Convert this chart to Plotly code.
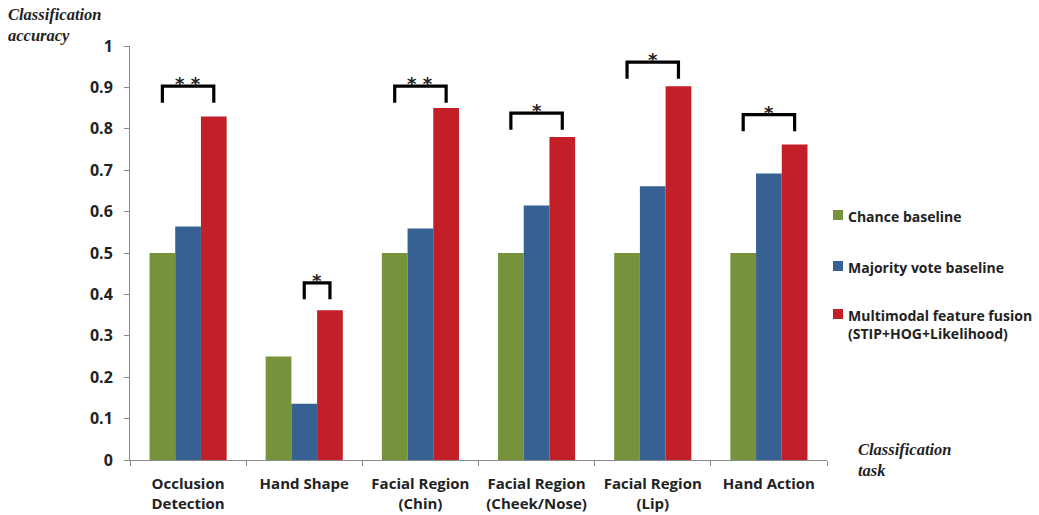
import plotly.graph_objects as go

# Classification tasks (x categories) and accuracies per method
tasks = [
    "Occlusion<br>Detection",
    "Hand Shape",
    "Facial Region<br>(Chin)",
    "Facial Region<br>(Cheek/Nose)",
    "Facial Region<br>(Lip)",
    "Hand Action",
]
chance = [0.50, 0.25, 0.50, 0.50, 0.50, 0.50]
majority = [0.564, 0.136, 0.559, 0.615, 0.661, 0.692]
fusion = [0.830, 0.362, 0.850, 0.780, 0.903, 0.762]

series_names = [
    "Chance baseline",
    "Majority vote baseline",
    "Multimodal feature fusion<br>(STIP+HOG+Likelihood)",
]

# Significance brackets: stars, compared bars, bracket level
stars = ["* *", "*", "* *", "*", "*", "*"]
bracket_from = ["chance", "majority", "chance", "chance", "chance", "chance"]
bracket_level = [0.903, 0.428, 0.903, 0.838, 0.961, 0.834]

y_ticks = [0, 0.1, 0.2, 0.3, 0.4, 0.5, 0.6, 0.7, 0.8, 0.9, 1]

GREEN = "#76933C"
BLUE = "#376093"
RED = "#C21F28"
COLORS = [GREEN, BLUE, RED]
BODY_FONT = "Open Sans"

fig = go.Figure()
for name, vals, col in zip(series_names, [chance, majority, fusion], COLORS):
    fig.add_trace(go.Bar(
        x=tasks, y=vals, name=name, marker_color=col,
        marker_line_width=0, showlegend=False,
    ))

BARGAP = 0.336
bar_w = (1 - BARGAP) / 3
offsets = {"chance": -bar_w, "majority": 0.0, "fusion": bar_w}

shapes = []
annotations = []
leg = 0.04
for i, (s, frm, lvl) in enumerate(zip(stars, bracket_from, bracket_level)):
    x0 = i + offsets[frm]
    x1 = i + offsets["fusion"]
    shapes.append(dict(
        type="path", xref="x", yref="y",
        path=f"M {x0},{lvl - leg} L {x0},{lvl} L {x1},{lvl} L {x1},{lvl - leg}",
        line=dict(color="black", width=3.2),
    ))
    annotations.append(dict(
        x=(x0 + x1) / 2, y=lvl, xref="x", yref="y", text=f"<b>{s}</b>",
        showarrow=False, yanchor="bottom", yshift=-10,
        font=dict(family="DejaVu Sans", size=18, color="#222"),
    ))

# Axis titles
annotations.append(dict(
    x=-0.178, y=1.105, xref="paper", yref="paper", xanchor="left", yanchor="top",
    text="<b><i>Classification<br>accuracy</i></b>", showarrow=False, align="left",
    font=dict(family="Liberation Serif", size=16.5, color="#222"),
))
annotations.append(dict(
    x=1.042, y=0.0, xref="paper", yref="paper", xanchor="left", yanchor="middle",
    text="<b><i>Classification<br>task</i></b>", showarrow=False, align="left",
    font=dict(family="Liberation Serif", size=16.5, color="#222"),
))

# Legend on the right: colour squares with labels
PLOT_L, PLOT_R, PLOT_T, PLOT_B = 130, 827, 46, 460
def px_x(px):
    return (px - PLOT_L) / (PLOT_R - PLOT_L)
def px_y(py):
    return (PLOT_B - py) / (PLOT_B - PLOT_T)

legend_rows = [215, 266, 314]
for name, col, row in zip(series_names, COLORS, legend_rows):
    shapes.append(dict(
        type="rect", xref="paper", yref="paper",
        x0=px_x(833), x1=px_x(843), y0=px_y(row + 5), y1=px_y(row - 5),
        fillcolor=col, line_width=0,
    ))
    annotations.append(dict(
        x=px_x(846), y=px_y(row - 10), xref="paper", yref="paper",
        xanchor="left", yanchor="top", align="left", showarrow=False,
        text=f"<b>{name}</b>",
        font=dict(family=BODY_FONT, size=14, color="#222"),
    ))

fig.update_layout(
    width=1039, height=515,
    margin=dict(l=PLOT_L, r=1039 - PLOT_R, t=PLOT_T, b=515 - PLOT_B, autoexpand=False),
    paper_bgcolor="white", plot_bgcolor="white",
    barmode="group", bargap=BARGAP, bargroupgap=0,
    shapes=shapes, annotations=annotations,
    showlegend=False,
    font=dict(family=BODY_FONT, color="#222"),
)
fig.update_xaxes(
    type="category", tickson="boundaries", ticks="outside", ticklen=5,
    tickcolor="#888", showline=True, linecolor="#888", linewidth=1,
    showgrid=False, ticklabelstandoff=10,
    tickfont=dict(family=BODY_FONT, size=15, color="#222", weight="bold"),
    range=[-0.5, 5.5],
)
fig.update_yaxes(
    range=[0, 1], tickvals=y_ticks, ticktext=[f"{v:g}" for v in y_ticks],
    ticks="outside", ticklen=5, tickcolor="#888", showline=True,
    linecolor="#888", linewidth=1, showgrid=False, zeroline=False,
    ticklabelstandoff=8,
    tickfont=dict(family=BODY_FONT, size=16, color="#222", weight="bold"),
)

fig.write_html("out.html")
